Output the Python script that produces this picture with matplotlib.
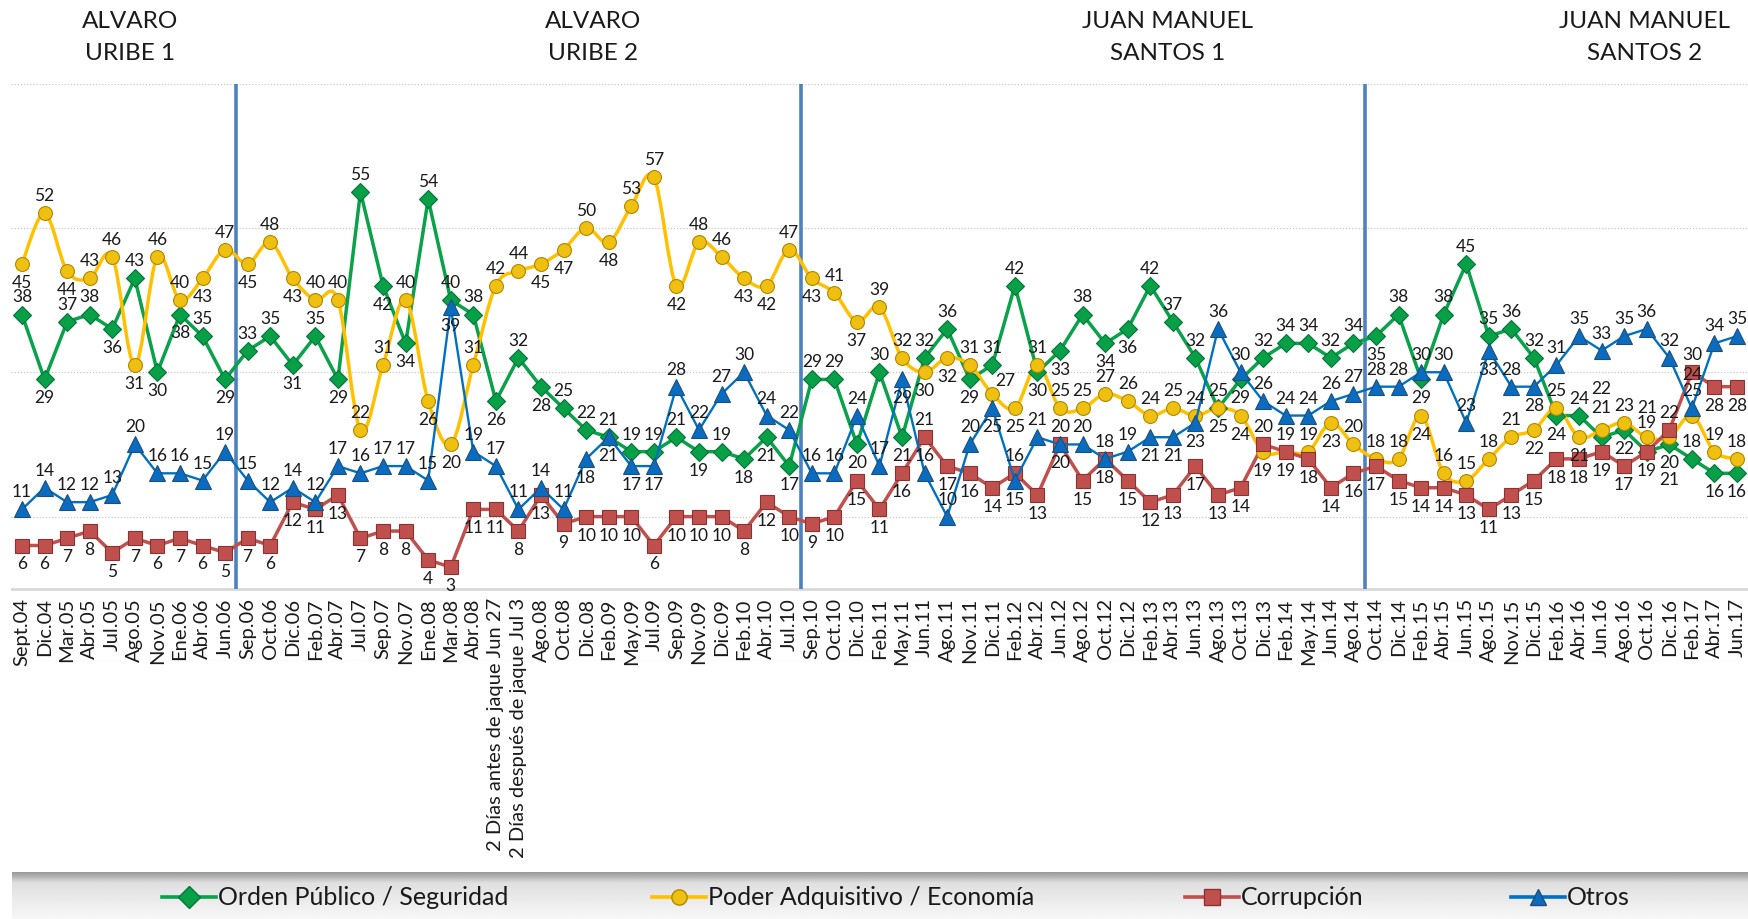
import numpy as np
import matplotlib
matplotlib.use("Agg")
import matplotlib.pyplot as plt
from matplotlib.path import Path
from matplotlib.patches import PathPatch
from matplotlib.lines import Line2D

plt.rcParams['font.family'] = ['Lato', 'DejaVu Sans']

categories = [
    "Sept.04", "Dic.04", "Mar.05", "Abr.05", "Jul.05", "Ago.05", "Nov.05", "Ene.06", "Abr.06", "Jun.06",
    "Sep.06", "Oct.06", "Dic.06", "Feb.07", "Abr.07", "Jul.07", "Sep.07", "Nov.07", "Ene.08", "Mar.08",
    "Abr.08", "2 Días antes de jaque Jun 27", "2 Días después de jaque Jul 3", "Ago.08", "Oct.08", "Dic.08",
    "Feb.09", "May.09", "Jul.09", "Sep.09", "Nov.09", "Dic.09", "Feb.10", "Abr.10", "Jul.10",
    "Sep.10", "Oct.10", "Dic.10", "Feb.11", "May.11", "Jun.11", "Ago.11", "Nov.11", "Dic.11", "Feb.12",
    "Abr.12", "Jun.12", "Ago.12", "Oct.12", "Dic.12", "Feb.13", "Abr.13", "Jun.13", "Ago.13", "Oct.13",
    "Dic.13", "Feb.14", "May.14", "Jun.14", "Ago.14",
    "Oct.14", "Dic.14", "Feb.15", "Abr.15", "Jun.15", "Ago.15", "Nov.15", "Dic.15", "Feb.16", "Abr.16",
    "Jun.16", "Ago.16", "Oct.16", "Dic.16", "Feb.17", "Abr.17", "Jun.17",
]

orden_publico = [
    38, 29, 37, 38, 36, 43, 30, 38, 35, 29,
    33, 35, 31, 35, 29, 55, 42, 34, 54, 40,
    38, 26, 32, 28, 25, 22,
    21, 19, 19, 21, 19, 19, 18, 21, 17,
    29, 29, 20, 30, 21, 32, 36, 29, 31, 42,
    30, 33, 38, 34, 36, 42, 37, 32, 25, 29,
    32, 34, 34, 32, 34,
    35, 38, 29, 38, 45, 35, 36, 32, 24, 24,
    21, 22, 19, 20, 18, 16, 16,
]

poder_adquisitivo = [
    45, 52, 44, 43, 46, 31, 46, 40, 43, 47,
    45, 48, 43, 40, 40, 22, 31, 40, 26, 20,
    31, 42, 44, 45, 47, 50,
    48, 53, 57, 42, 48, 46, 43, 42, 47,
    43, 41, 37, 39, 32, 30, 32, 31, 27, 25,
    31, 25, 25, 27, 26, 24, 25, 24, 25, 24,
    19, 19, 19, 23, 20,
    18, 18, 24, 16, 15, 18, 21, 22, 25, 21,
    22, 23, 21, 21, 24, 19, 18,
]

corrupcion = [
    6, 6, 7, 8, 5, 7, 6, 7, 6, 5,
    7, 6, 12, 11, 13, 7, 8, 8, 4, 3,
    11, 11, 8, 13, 9, 10,
    10, 10, 6, 10, 10, 10, 8, 12, 10,
    9, 10, 15, 11, 16, 21, 17, 16, 14, 16,
    13, 20, 15, 18, 15, 12, 13, 17, 13, 14,
    20, 19, 18, 14, 16,
    17, 15, 14, 14, 13, 11, 13, 15, 18, 18,
    19, 17, 19, 22, 30, 28, 28,
]

otros = [
    11, 14, 12, 12, 13, 20, 16, 16, 15, 19,
    15, 12, 14, 12, 17, 16, 17, 17, 15, 39,
    19, 17, 11, 14, 11, 18,
    21, 17, 17, 28, 22, 27, 30, 24, 22,
    16, 16, 24, 17, 29, 16, 10, 20, 25, 15,
    21, 20, 20, 18, 19, 21, 21, 23, 36, 30,
    26, 24, 24, 26, 27,
    28, 28, 30, 30, 23, 33, 28, 28, 31, 35,
    33, 35, 36, 32, 25, 34, 35,
]

series_names = ["Orden Público / Seguridad", "Poder Adquisitivo / Economía", "Corrupción", "Otros"]
period_titles = [("ALVARO", "URIBE 1"), ("ALVARO", "URIBE 2"),
                 ("JUAN MANUEL", "SANTOS 1"), ("JUAN MANUEL", "SANTOS 2")]
period_starts = ["Sep.06", "Sep.10", "Oct.14"]

# ---------------------------------------------------------------- figure
W, H = 1749, 920
fig = plt.figure(figsize=(W / 100, H / 100), dpi=100)
ax_l, ax_r = 10.7 / W, 1748.3 / W
ax_b, ax_t = 1 - 662 / H, 1 - 84.5 / H
ax = fig.add_axes([ax_l, ax_b, ax_r - ax_l, ax_t - ax_b])
n = len(categories)
x = np.arange(n)
ax.set_xlim(-0.5, n - 0.5)
ax.set_ylim(-10, 70)
for s in ax.spines.values():
    s.set_visible(False)
ax.set_xticks([])
ax.set_yticks([])

for gy in [-10, 10, 30, 50, 70]:
    ax.axhline(gy, color="#c8c8c8", lw=0.9, ls=(0, (1, 1.5)), zorder=0)
ax.axhline(0, color="#d9d9d9", lw=2.0, zorder=0.5)

for name in period_starts:
    xb = categories.index(name) - 0.5
    ax.plot([xb, xb], [0, 70], color="#4f81bd", lw=2.6, zorder=1, solid_capstyle="butt")

green, yellow, red, blue = "#0aa14b", "#ffc000", "#c0504d", "#0070c0"


def smooth_path(xs, ys):
    P = np.column_stack([xs, ys]).astype(float)
    verts = [P[0]]
    codes = [Path.MOVETO]
    m = len(P)
    for i in range(m - 1):
        p0 = P[i - 1] if i > 0 else P[i]
        p1, p2 = P[i], P[i + 1]
        p3 = P[i + 2] if i + 2 < m else P[i + 1]
        c1 = p1 + (p2 - p0) / 6.0
        c2 = p2 - (p3 - p1) / 6.0
        verts += [c1, c2, p2]
        codes += [Path.CURVE4] * 3
    return Path(verts, codes)


# green
ax.plot(x, orden_publico, color=green, lw=2.5, zorder=3)
ax.plot(x, orden_publico, ls="none", marker="D", ms=9, mfc="#07a046", mec="#05753a", mew=0.8, zorder=4)
# yellow (smoothed)
ax.add_patch(PathPatch(smooth_path(x, poder_adquisitivo), fc="none", ec=yellow, lw=2.5, zorder=3))
ax.plot(x, poder_adquisitivo, ls="none", marker="o", ms=10, mfc="#f0c010", mec="#b08800", mew=0.8, zorder=4)
# red
ax.plot(x, corrupcion, color=red, lw=2.5, zorder=3)
ax.plot(x, corrupcion, ls="none", marker="s", ms=10, mfc="#c0504d", mec="#8c3230", mew=0.8, zorder=4)
# blue
ax.plot(x, otros, color=blue, lw=1.7, zorder=5)
ax.plot(x, otros, ls="none", marker="^", ms=11, mfc="#0a6cc0", mec="#1f4e79", mew=0.8, zorder=6)

# ------------------------------------------------------------ data labels
to_px = ax.transData.transform
placed = []
obstacles = []
for vals in (orden_publico, poder_adquisitivo, corrupcion, otros):
    for i, v in enumerate(vals):
        px, py = to_px((i, v))
        obstacles.append((px - 6, py - 6, px + 6, py + 6))


def overlaps(box, boxes):
    for b in boxes:
        if box[0] < b[2] and box[2] > b[0] and box[1] < b[3] and box[3] > b[1]:
            return True
    return False


def label_series(vals, mode):
    m = len(vals)
    for i, v in enumerate(vals):
        if mode == "above":
            d = 1
        elif mode == "below":
            d = -1
        else:
            pv = vals[i - 1] if i > 0 else v
            nv = vals[i + 1] if i < m - 1 else v
            d = 1 if v >= (pv + nv) / 2 else -1
        cands = [(0, 18 * d), (0, -18 * d), (13, 14 * d), (-13, 14 * d),
                 (13, -14 * d), (-13, -14 * d), (0, 30 * d), (0, -30 * d),
                 (18, 26 * d), (-18, 26 * d), (18, -26 * d), (-18, -26 * d),
                 (0, 42 * d), (0, -42 * d), (20, 0), (-20, 0)]
        px, py = to_px((i, v))
        txt = str(v)
        hw = 5 * len(txt) + 1
        chosen = cands[0]
        for dx, dy in cands:
            box = (px + dx - hw, py + dy - 7, px + dx + hw, py + dy + 7)
            if not overlaps(box, placed) and not overlaps(box, obstacles):
                chosen = (dx, dy)
                break
        else:
            for dx, dy in cands:
                box = (px + dx - hw, py + dy - 7, px + dx + hw, py + dy + 7)
                if not overlaps(box, placed):
                    chosen = (dx, dy)
                    break
        dx, dy = chosen
        placed.append((px + dx - hw, py + dy - 7, px + dx + hw, py + dy + 7))
        ax.annotate(txt, (i, v), xytext=(dx * 0.72, dy * 0.72), textcoords="offset points",
                    ha="center", va="center", fontsize=12.5, color="#1a1a1a", zorder=7,
                    annotation_clip=False)


label_series(otros, "above")
label_series(corrupcion, "below")
label_series(orden_publico, "auto")
label_series(poder_adquisitivo, "auto")

for i, c in enumerate(categories):
    ax.annotate(c, (i, 0), xytext=(0, -6), textcoords="offset points", rotation=90,
                ha="center", va="top", fontsize=14.5, color="#1a1a1a", annotation_clip=False)

# period titles
title_x = [130, 593, 1168, 1645]
for (l1, l2), tx in zip(period_titles, title_x):
    fig.text(tx / W, 1 - 21 / H, l1, ha="center", va="center", fontsize=17.5, color="#1a1a1a")
    fig.text(tx / W, 1 - 53 / H, l2, ha="center", va="center", fontsize=17.5, color="#1a1a1a")

# legend band with gradient
band = fig.add_axes([12 / W, 0, (W - 12) / W, 47 / H], zorder=-1)
grad = np.concatenate([np.linspace(0.60, 0.88, 10), np.linspace(0.88, 0.97, 30)])
band.imshow(np.tile(grad[:, None], (1, 10)), cmap="gray", vmin=0, vmax=1, aspect="auto",
            extent=[0, 1, 0, 1])
band.axis("off")

leg_y = 1 - 898 / H
entries = [(series_names[0], green, "D", "#07a046", "#05753a", 162),
           (series_names[1], yellow, "o", "#f0c010", "#b08800", 652),
           (series_names[2], red, "s", "#c0504d", "#8c3230", 1185),
           (series_names[3], blue, "^", "#0a6cc0", "#1f4e79", 1511)]
for name, col, mk, fc, ec, x0 in entries:
    fig.add_artist(Line2D([x0 / W, (x0 + 54) / W], [leg_y, leg_y], color=col, lw=2.6,
                          transform=fig.transFigure))
    fig.add_artist(Line2D([(x0 + 27) / W], [leg_y], ls="none", marker=mk, ms=11, mfc=fc, mec=ec,
                          transform=fig.transFigure))
    fig.text((x0 + 56) / W, leg_y, name, ha="left", va="center", fontsize=18, color="#1a1a1a")

fig.savefig("out.png", dpi=100)
